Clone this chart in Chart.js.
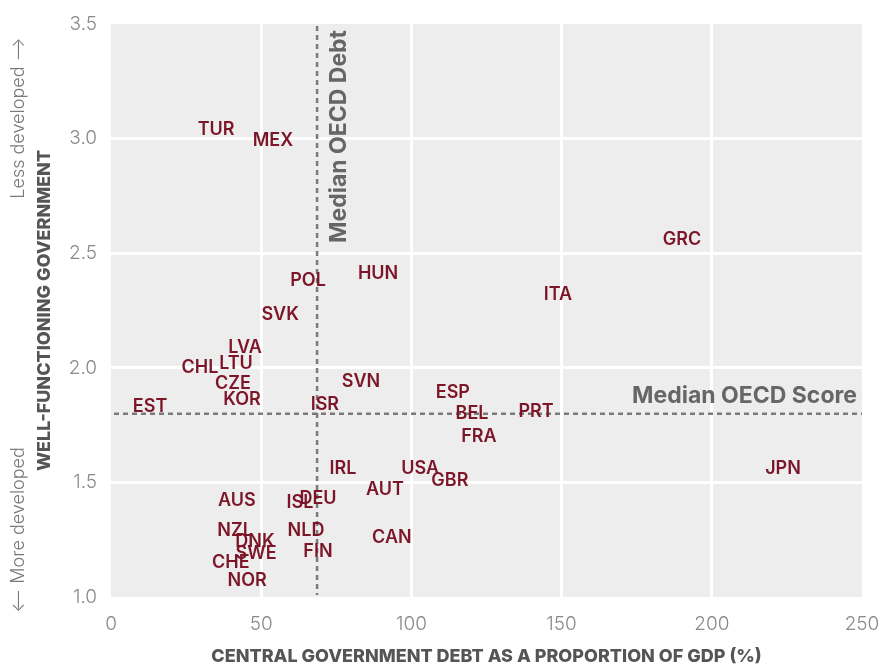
<!DOCTYPE html>
<html><head><meta charset="utf-8">
<script src="https://cdn.jsdelivr.net/npm/chart.js@4.4.1/dist/chart.umd.min.js"></script>
<style>html,body{margin:0;padding:0;background:#fff}#wrap{width:880px;height:666px;position:relative}</style>
</head><body><div id="wrap"><canvas id="c"></canvas></div>
<script>
const countries = ["TUR","MEX","POL","HUN","SVK","LVA","CHL","LTU","CZE","KOR","EST","ISR","SVN","ESP","BEL","PRT","FRA","GRC","ITA","JPN","IRL","USA","GBR","AUT","DEU","ISL","AUS","NZL","NLD","CAN","DNK","SWE","FIN","CHE","NOR"];
const debt =   [35.0, 53.9, 65.6, 88.9, 56.3, 44.6, 29.6, 41.6, 40.6, 43.6, 13.0, 71.2, 83.2, 113.8, 120.2, 141.5, 122.5, 190.1, 148.8, 223.7, 77.2, 102.9, 112.8, 91.2, 68.9, 62.9, 41.9, 41.3, 64.9, 93.5, 47.9, 48.3, 68.9, 39.9, 45.3];
const score =  [3.04, 2.99, 2.38, 2.41, 2.23, 2.09, 2.00, 2.02, 1.93, 1.86, 1.83, 1.84, 1.94, 1.89, 1.80, 1.81, 1.70, 2.56, 2.32, 1.56, 1.56, 1.56, 1.51, 1.47, 1.43, 1.41, 1.42, 1.29, 1.29, 1.26, 1.24, 1.19, 1.20, 1.15, 1.07];
const xTicks = [0, 50, 100, 150, 200, 250];
const yTicks = [1.0, 1.5, 2.0, 2.5, 3.0, 3.5];
const medianDebt = 68.6;
const medianScore = 1.8;

const LABEL_COLOR = '#7d1529';
const BG = '#ecedec';
const FONT = 'Inter';

const bgPlugin = {
  id: 'bg',
  beforeDraw(chart) {
    const {ctx, chartArea: a} = chart;
    ctx.save();
    ctx.fillStyle = BG;
    ctx.fillRect(a.left, a.top, a.right - a.left, a.bottom - a.top);
    ctx.restore();
  }
};

const medianPlugin = {
  id: 'median',
  beforeDatasetsDraw(chart) {
    const {ctx, chartArea: a, scales: {x, y}} = chart;
    const mx = x.getPixelForValue(medianDebt);
    const my = y.getPixelForValue(medianScore);
    ctx.save();
    ctx.strokeStyle = '#7a7a7a';
    ctx.lineWidth = 2.5;
    ctx.setLineDash([5, 4]);
    ctx.beginPath();
    ctx.moveTo(mx, a.top + 2); ctx.lineTo(mx, a.bottom - 2);
    ctx.moveTo(a.left + 3, my); ctx.lineTo(a.right, my);
    ctx.stroke();
    ctx.setLineDash([]);
    ctx.fillStyle = '#666666';
    ctx.font = 'bold 23px ' + FONT;
    ctx.textAlign = 'right';
    ctx.textBaseline = 'alphabetic';
    ctx.fillText('Median OECD Score', a.right - 5, my - 11);
    ctx.save();
    ctx.translate(mx + 29, a.top + 6);
    ctx.rotate(-Math.PI / 2);
    ctx.textAlign = 'right';
    ctx.fillText('Median OECD Debt', 0, 0);
    ctx.restore();
    // side annotations
    ctx.fillStyle = '#7a7a7a';
    ctx.font = '300 18px ' + FONT;
    ctx.textAlign = 'center';
    ctx.textBaseline = 'middle';
    ctx.save();
    ctx.translate(19, 118);
    ctx.rotate(-Math.PI / 2);
    ctx.fillText('Less developed \u27F6', 0, 0);
    ctx.restore();
    ctx.save();
    ctx.translate(19, 530);
    ctx.rotate(-Math.PI / 2);
    ctx.fillText('\u27F5 More developed', 0, 0);
    ctx.restore();
    ctx.restore();
  }
};

const labelPlugin = {
  id: 'labels',
  afterDatasetsDraw(chart) {
    const {ctx} = chart;
    const meta = chart.getDatasetMeta(0);
    ctx.save();
    ctx.fillStyle = LABEL_COLOR;
    ctx.font = '600 18px ' + FONT;
    ctx.textAlign = 'center';
    ctx.textBaseline = 'middle';
    meta.data.forEach((el, i) => {
      ctx.fillText(countries[i], el.x, el.y);
    });
    ctx.restore();
  }
};

const edgeColor = (vals) => (c) => {
  const v = c.tick && c.tick.value;
  return (v === vals[0] || v === vals[vals.length - 1]) ? 'rgba(0,0,0,0)' : '#ffffff';
};

new Chart(document.getElementById('c'), {
  type: 'scatter',
  data: {
    datasets: [{
      data: debt.map((d, i) => ({x: d, y: score[i]})),
      pointRadius: 0,
      pointHoverRadius: 0,
      showLine: false
    }]
  },
  options: {
    responsive: true,
    maintainAspectRatio: false,
    animation: false,
    events: [],
    layout: {padding: {left: 0, right: 18, top: 24, bottom: 0}},
    plugins: {legend: {display: false}, tooltip: {enabled: false}},
    scales: {
      x: {
        type: 'linear', min: 0, max: 250,
        afterBuildTicks: (s) => { s.ticks = xTicks.map(v => ({value: v})); },
        afterFit: (s) => { s.height = 69; s.paddingLeft = 0; s.paddingRight = 0; },
        grid: {color: edgeColor(xTicks), lineWidth: 3, drawTicks: false},
        border: {display: false},
        ticks: {padding: 16, color: '#8a8a8a', font: {family: FONT, size: 19, weight: 300}},
        title: {display: true, text: 'CENTRAL GOVERNMENT DEBT AS A PROPORTION OF GDP (%)', color: '#555555', font: {family: FONT, size: 18, weight: 800, lineHeight: 1}, padding: 0}
      },
      y: {
        type: 'linear', min: 1, max: 3.5,
        afterBuildTicks: (s) => { s.ticks = yTicks.map(v => ({value: v})); },
        afterFit: (s) => { s.width = 111; s.paddingTop = 0; s.paddingBottom = 0; },
        grid: {color: edgeColor(yTicks), lineWidth: 3, drawTicks: false},
        border: {display: false},
        ticks: {padding: 14, color: '#8a8a8a', font: {family: FONT, size: 19, weight: 300}, callback: (v) => Number(v).toFixed(1)},
        title: {display: true, text: 'WELL-FUNCTIONING GOVERNMENT', color: '#555555', font: {family: FONT, size: 18, weight: 800, lineHeight: 1}, padding: {top: 36}}
      }
    }
  },
  plugins: [bgPlugin, medianPlugin, labelPlugin]
});
</script>
</body></html>
